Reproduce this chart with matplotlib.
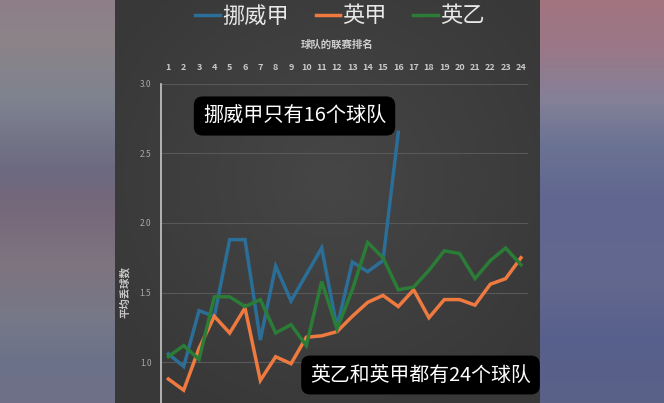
import numpy as np
import matplotlib.pyplot as plt
from matplotlib.colors import to_rgb

plt.rcParams['font.family'] = ['Noto Sans CJK SC', 'DejaVu Sans']

# data
ranks = list(range(1, 25))
norway = [1.06, 0.97, 1.37, 1.33, 1.88, 1.88, 1.16, 1.69, 1.44, 1.63, 1.82, 1.25,
          1.72, 1.65, 1.73, 2.65]
premier = [0.88, 0.80, 1.10, 1.33, 1.21, 1.39, 0.87, 1.04, 0.99, 1.18, 1.19, 1.22,
           1.33, 1.43, 1.48, 1.40, 1.52, 1.32, 1.45, 1.45, 1.41, 1.56, 1.60, 1.75]
league1 = [1.04, 1.12, 1.02, 1.47, 1.47, 1.40, 1.45, 1.21, 1.27, 1.12, 1.58, 1.24,
           1.52, 1.86, 1.75, 1.52, 1.54, 1.66, 1.80, 1.78, 1.60, 1.73, 1.82, 1.70]
series_names = ['挪威甲', '英甲', '英乙']
series_colors = ['#2b6e98', '#ee7a40', '#2a7c36']
yticks = [1.0, 1.5, 2.0, 2.5, 3.0]

W, H = 664, 403
fig = plt.figure(figsize=(W / 100, H / 100), dpi=100)


def column(stops):
    ys = np.linspace(0, 1, H)
    pos = [s[0] for s in stops]
    cols = np.array([to_rgb(s[1]) for s in stops])
    return np.stack([np.interp(ys, pos, cols[:, k]) for k in range(3)], axis=1)


left_col = column([(0, '#8e7e88'), (0.1, '#8c8488'), (0.25, '#7e8290'), (0.42, '#6c6a80'),
                   (0.52, '#76687a'), (0.65, '#7e7480'), (0.8, '#767888'), (0.9, '#6a7288'),
                   (1.0, '#707088')])
right_col = column([(0, '#a27480'), (0.12, '#9a7888'), (0.25, '#848098'), (0.35, '#6c7494'),
                    (0.5, '#606690'), (0.7, '#62688e'), (0.85, '#575f8c'), (1, '#5a6288')])
img = np.zeros((H, W, 3))
img[:, :115] = left_col[:, None, :]
img[:, 540:] = right_col[:, None, :]
xx, yy = np.meshgrid(np.arange(115, 540), np.arange(H))
r = np.sqrt(((xx - 330) / 260.0) ** 2 + ((yy - 180) / 260.0) ** 2)
shade = 0.275 - 0.055 * np.clip(r, 0, 1)
img[:, 115:540] = shade[:, :, None]

bg = fig.add_axes([0, 0, 1, 1])
bg.imshow(img, extent=(0, W, H, 0), aspect='auto')
bg.set_xlim(0, W)
bg.set_ylim(H, 0)
bg.axis('off')

ax = fig.add_axes([161 / W, 0, (528 - 161) / W, (H - 83.5) / H])
ax.patch.set_alpha(0)
lines = []
for vals, name, c in zip([norway, premier, league1], series_names, series_colors):
    ln, = ax.plot(ranks[:len(vals)], vals, color=c, lw=2.5, label=name,
                  solid_joinstyle='miter')
    lines.append(ln)

ax.set_xlim(0.52, 24.46)
ax.set_ylim(0.708, 3.0)
ax.set_yticks(yticks)
ax.set_yticklabels([f'{v:.1f}' for v in yticks])
ax.set_xticks(ranks)
ax.xaxis.tick_top()
ax.tick_params(axis='x', length=0, pad=8, labelsize=6.5, labelcolor='#c8c8c8')
ax.tick_params(axis='y', length=0, pad=7, labelsize=6, labelcolor='#a8a8a8')
for t in ax.get_xticklabels():
    t.set_fontweight('bold')
ax.grid(axis='y', color='#585858', lw=0.8)
ax.set_axisbelow(True)
for s in ['top', 'right', 'bottom']:
    ax.spines[s].set_visible(False)
ax.spines['left'].set_color('#c8c8c8')
ax.spines['left'].set_linewidth(1.2)

fig.text(337 / W, 1 - 45 / H, '球队的联赛排名', ha='center', va='center',
         fontsize=7.5, fontweight='bold', color='#d0d0d0')
fig.text(125 / W, 1 - 292 / H, '平均丢球数', ha='center', va='center', rotation=90,
         fontsize=7.5, fontweight='bold', color='#c8c8c8')

leg = fig.legend(handles=lines, loc='center', bbox_to_anchor=(340 / W, 1 - 16 / H), ncol=3,
                 frameon=False, fontsize=16, handlelength=1.1, handletextpad=0.1,
                 columnspacing=1.2, labelcolor='#e8e8e8')
for t in leg.get_texts():
    t.set_fontweight('light')

box = dict(boxstyle='round,pad=0.45,rounding_size=0.45', facecolor='black', edgecolor='none')
fig.text(294.5 / W, 1 - 116 / H, '挪威甲只有16个球队', ha='center', va='center',
         fontsize=14.5, color='white', bbox=box)
fig.text(420.5 / W, 1 - 375 / H, '英乙和英甲都有24个球队', ha='center', va='center',
         fontsize=14.3, color='white', bbox=box)

fig.savefig('out.png', dpi=100)
